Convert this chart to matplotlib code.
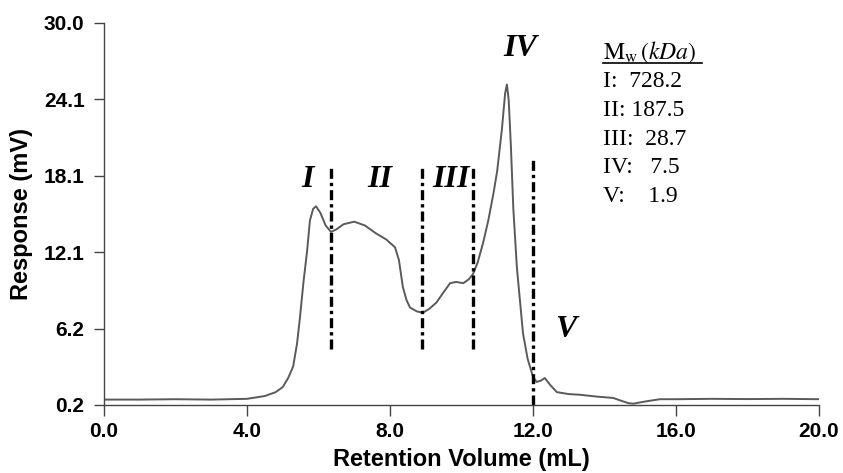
import matplotlib
matplotlib.use("Agg")
import matplotlib.pyplot as plt
from matplotlib.lines import Line2D

plt.rcParams['font.family'] = 'Liberation Sans'
plt.rcParams['mathtext.fontset'] = 'stix'

# chromatogram trace
vol = [0.0, 1.0, 2.0, 3.0, 4.0, 4.5, 4.8, 5.0, 5.15, 5.29, 5.4, 5.48, 5.58, 5.68,
       5.76, 5.85, 5.93, 6.05, 6.2, 6.35, 6.5, 6.7, 7.0, 7.3, 7.6, 7.9, 8.14,
       8.25, 8.36, 8.46, 8.56, 8.75, 8.92, 9.1, 9.3, 9.5, 9.68, 9.85, 10.05,
       10.2, 10.32, 10.45, 10.6, 10.75, 10.9, 11.0, 11.13, 11.22, 11.27, 11.32,
       11.38, 11.45, 11.55, 11.72, 11.85, 12.0, 12.1, 12.22, 12.33, 12.5, 12.67,
       13.0, 13.3, 13.8, 14.24, 14.5, 14.66, 14.8, 15.2, 15.55, 16.0, 17.0,
       18.0, 19.0, 20.0]
resp = [0.62, 0.62, 0.65, 0.62, 0.68, 0.9, 1.2, 1.6, 2.3, 3.2, 5.0, 7.0, 9.8, 12.2,
        14.6, 15.5, 15.7, 15.2, 14.2, 13.7, 13.9, 14.3, 14.5, 14.2, 13.6, 13.1, 12.5,
        11.5, 9.4, 8.4, 7.8, 7.5, 7.4, 7.7, 8.2, 9.0, 9.7, 9.8, 9.7,
        10.0, 10.4, 11.3, 12.8, 14.6, 16.8, 18.5, 21.7, 24.5, 25.2, 24.0,
        20.5, 15.5, 10.9, 5.8, 3.8, 2.4, 2.0, 2.1, 2.3, 1.7, 1.2,
        1.05, 1.0, 0.85, 0.75, 0.5, 0.35, 0.3, 0.5, 0.65, 0.65, 0.68,
        0.66, 0.68, 0.65]

# fraction cut lines
cut_x = [6.35, 8.9, 10.32, 12.0]
cut_bottom = [4.6, 4.6, 4.6, 0.2]
cut_top = [18.7, 18.7, 18.7, 19.5]

fractions = ['I', 'II', 'III', 'IV', 'V']
frac_x = [5.68, 7.72, 9.7, 11.64, 12.92]
frac_y = [17.8, 17.8, 17.8, 28.0, 6.05]

mw_labels = ['I:  728.2', 'II: 187.5', 'III:  28.7', 'IV:   7.5', 'V:    1.9']

yticks = [0.2, 6.16, 12.12, 18.08, 24.04, 30.0]
ylabels = ['0.2', '6.2', '12.1', '18.1', '24.1', '30.0']
xticks = [0, 4, 8, 12, 16, 20]
xlabels = ['0.0', '4.0', '8.0', '12.0', '16.0', '20.0']

fig = plt.figure(figsize=(8.43, 4.73), dpi=100)
ax = fig.add_axes([0.1234, 0.1438, 0.8481, 0.8076])

ax.plot(vol, resp, color='#5a5a5a', lw=1.4)

for x, b, t in zip(cut_x, cut_bottom, cut_top):
    ax.plot([x, x], [b, t], color='black', lw=2.4, linestyle=(0, (3, 1.2, 1, 1.2)))

for lab, x, y in zip(fractions, frac_x, frac_y):
    ax.text(x, y, lab, fontsize=23, fontweight='bold', fontstyle='italic',
            family='Liberation Serif', ha='center', va='center', clip_on=False)

ax.set_xlim(0, 20)
ax.set_ylim(0.2, 30)
ax.set_xticks(xticks)
ax.set_xticklabels(xlabels, fontsize=15, fontweight='bold')
ax.set_yticks(yticks)
ax.set_yticklabels(ylabels, fontsize=15, fontweight='bold')
ax.tick_params(axis='x', direction='out', length=8, width=1, color='#444444', pad=4)
ax.tick_params(axis='y', direction='out', length=7, width=1, color='#444444', pad=7)

for s in ['top', 'right']:
    ax.spines[s].set_visible(False)
for s in ['left', 'bottom']:
    ax.spines[s].set_color('#444444')
    ax.spines[s].set_linewidth(1.0)

ax.set_xlabel('Retention Volume (mL)', fontsize=17, fontweight='bold', labelpad=5)
ax.set_ylabel('Response (mV)', fontsize=17, fontweight='bold', labelpad=8)

# molecular weight table
fig.text(0.715, 0.890, r'$\mathrm{M}_{\mathrm{w}}\,\mathit{(kDa)}$', fontsize=17,
         va='center', ha='left')
fig.add_artist(Line2D([0.715, 0.833], [0.866, 0.866], color='black', lw=1.2,
                      transform=fig.transFigure))
for i, t in enumerate(mw_labels):
    fig.text(0.715, 0.827 - i * 0.0607, t, fontsize=17, family='Liberation Serif',
             va='center', ha='left')

fig.savefig('out.png', dpi=100)
